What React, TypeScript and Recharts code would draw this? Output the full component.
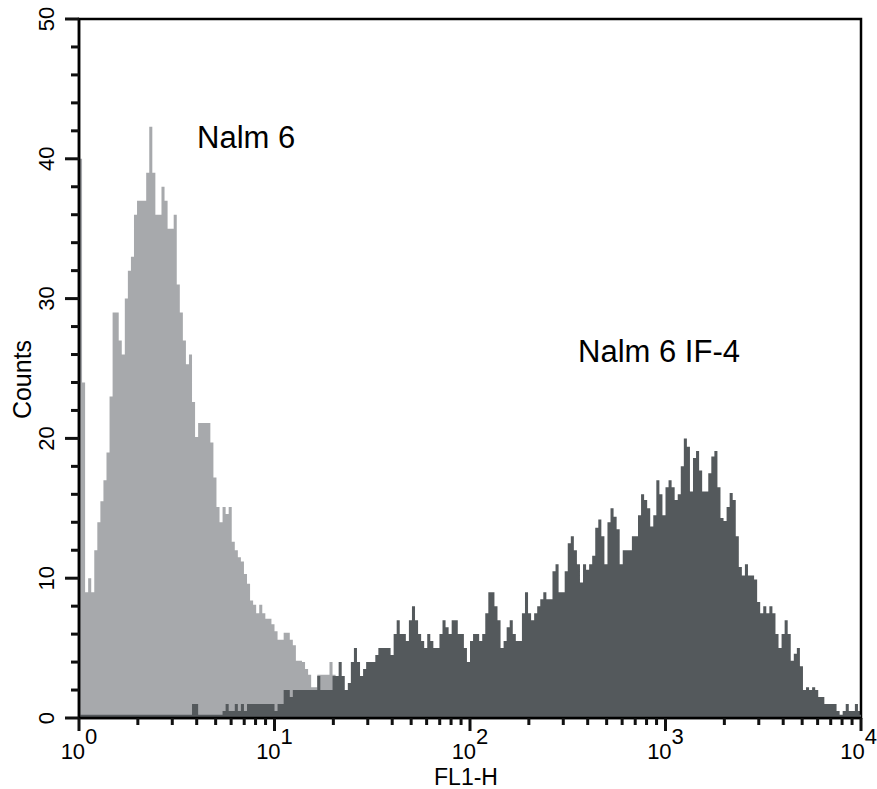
import { AreaChart, Area, XAxis, YAxis, ReferenceArea, ReferenceDot, ReferenceLine } from 'recharts'

// 256 log channels spread over 4 decades (10^0 .. 10^4)
const channels = 256
const decades = 4

// Nalm 6 (light grey), counts per channel starting at channel 0
const nalm6 = [
  40, 24, 9, 10, 9, 12, 14, 15.5, 17, 19,
  23, 29, 29, 27, 26, 30, 32, 33, 36, 37,
  37, 37, 39, 42.3, 39, 36, 36, 38, 37, 35,
  35, 36, 31, 29, 27, 25.3, 26, 22.6, 20.1, 21.1,
  21.1, 21.1, 21.1, 19.7, 17.2, 15.1, 14, 15.1, 14.6, 15.1,
  12.6, 12, 11.5, 11.2, 10.3, 9.6, 8.4, 8.1, 7.5, 8.1,
  7.5, 7.1, 7.1, 6.7, 6.2, 5.6, 5.6, 6.1, 6.1, 5.6,
  5.2, 4.1, 4.1, 4, 3.5, 3.1, 2.2, 2.2, 3.1, 3.1,
  3.1, 3.1, 4, 3.1, 2.5, 2, 2, 1.5, 1.5, 1,
  1, 0.5, 0.5, 0, 0, 0,
]

// Nalm 6 IF-4 (dark grey), counts per channel starting at channel 0
const nalm6If4 = [
  0, 0, 0, 0, 0, 0, 0, 0, 0, 0,
  0, 0, 0, 0, 0, 0, 0, 0, 0, 0,
  0, 0, 0, 0, 0, 0, 0, 0, 0, 0,
  0, 0, 0, 0, 0, 0, 0, 1, 1, 0,
  0, 0, 0, 0, 0, 0, 0, 0.5, 1, 0.5,
  0.5, 1, 0.5, 1, 0.5, 1, 1, 1, 1, 1,
  1, 1, 1, 1, 0.5, 1, 1, 2, 2, 1.5,
  2, 2, 2, 2, 2, 2, 2, 2, 3, 2,
  2, 2, 2, 3, 3, 4, 3, 2, 2.5, 4,
  5, 4, 3, 3.5, 4, 4, 4, 4.5, 5, 5,
  5, 5, 4.5, 6, 7, 6, 6, 5.5, 7, 8,
  7, 6, 5.5, 5, 6, 5.5, 5, 5, 6, 7,
  6.5, 6, 7, 7, 6, 6, 5, 4, 5.5, 6,
  6, 5.5, 6, 7.5, 9, 9, 8, 7, 5, 5.5,
  6.5, 7, 6, 5.5, 5.5, 7.5, 9, 7.5, 7, 7.5,
  8, 8.5, 9, 8.5, 8.5, 10.5, 11, 9, 9, 10.5,
  12.5, 13, 12, 11, 9.7, 11, 10.6, 11, 11.6, 13.6,
  14.2, 13, 11, 14, 15, 14.4, 13.5, 11, 12, 12,
  12, 13, 13, 14.5, 16, 15.6, 15, 13.7, 14.5, 17,
  16, 14.5, 16.5, 17, 16.5, 15.6, 16, 18, 20, 19.4,
  16.2, 18.6, 19.1, 17.7, 16.2, 16.2, 17.5, 18.7, 19.1, 16.5,
  14.3, 14.1, 15.1, 16.1, 15.6, 13, 10.8, 10.2, 11, 10.2,
  10.2, 9.9, 8.3, 7.5, 8, 7.5, 8, 7.5, 6, 5,
  6, 7, 6, 4.1, 4.6, 5, 3.7, 2, 2.2, 2,
  2.2, 2, 1.5, 1.5, 1, 1, 1, 1, 0.5, 0,
  0.5, 1, 0.5, 0.5, 1, 0.5,
]

const yMajorTicks = [0, 10, 20, 30, 40, 50]
const yMinorTicks = [2, 4, 6, 8, 12, 14, 16, 18, 22, 24, 26, 28, 32, 34, 36, 38, 42, 44, 46, 48]
const xMajorTicks = [1, 10, 100, 1000, 10000]
const xMinorTicks = [
  2, 3, 4, 5, 6, 7, 8, 9,
  20, 30, 40, 50, 60, 70, 80, 90,
  200, 300, 400, 500, 600, 700, 800, 900,
  2000, 3000, 4000, 5000, 6000, 7000, 8000, 9000,
]

const font = '"Liberation Sans", Arial, Helvetica, sans-serif'
const lightGrey = '#a7a9ac'
const darkGrey = '#54595c'

const W = 877
const H = 789
const margin = { top: 19, right: 16, bottom: 0, left: 0 }
const yAxisW = 79
const xAxisH = 71
const plotLeft = margin.left + yAxisW
const plotBottom = H - margin.bottom - xAxisH
const plotW = W - margin.left - margin.right - yAxisW
const plotH = plotBottom - margin.top
const pxPerCount = plotH / 50
const pxPerDecade = plotW / decades

const rows = Array.from({ length: channels + 1 }, (_, i) => {
  const k = Math.min(i, channels - 1)
  return {
    fl: Math.pow(10, (i * decades) / channels),
    nalm6: nalm6[k] ?? 0,
    if4: nalm6If4[k] ?? 0,
  }
})

function XTickLabel(props: any) {
  const x = Number(props.x)
  const y = Number(props.y)
  const exp = Math.round(Math.log10(props.payload.value))
  const last = exp === decades
  return (
    <text
      x={last ? x + 16 : x}
      y={y + 29}
      textAnchor={last ? 'end' : 'middle'}
      fontFamily={font}
      fontSize={22}
      fill="#000"
    >
      10<tspan dy={-15}>{exp}</tspan>
    </text>
  )
}

function YTickLabel(props: any) {
  const x = Number(props.x)
  const y = Number(props.y)
  const tx = x - 12
  return (
    <text x={tx} y={y} transform={`rotate(-90 ${tx} ${y})`} textAnchor="middle" fontFamily={font} fontSize={22} fill="#000">
      {props.payload.value}
    </text>
  )
}

function CountsLabel(props: any) {
  const { viewBox } = props
  const cx = viewBox.x + 31
  const cy = viewBox.y + viewBox.height / 2 + 11
  return (
    <text x={cx} y={cy} transform={`rotate(-90 ${cx} ${cy})`} textAnchor="middle" fontFamily={font} fontSize={25} fill="#000">
      Counts
    </text>
  )
}

function FlLabel(props: any) {
  const { viewBox } = props
  return (
    <text x={viewBox.x + viewBox.width / 2 - 4} y={viewBox.y + 67} textAnchor="middle" fontFamily={font} fontSize={23} fill="#000">
      FL1-H
    </text>
  )
}

function Annot(props: any) {
  const { viewBox, text } = props
  return (
    <text x={viewBox.x} y={viewBox.y} fontFamily={font} fontSize={31} fill="#000">
      {text}
    </text>
  )
}

// axis tick marks, laid over the chart on the same log / linear mapping
function TickMarks() {
  const xPos = (v: number) => plotLeft + Math.log10(v) * pxPerDecade
  const yPos = (v: number) => plotBottom - v * pxPerCount
  return (
    <svg
      width={W}
      height={H}
      style={{ position: 'absolute', left: 0, top: 0, pointerEvents: 'none', zIndex: 2 }}
    >
      {xMajorTicks.map((v) => (
        <rect key={`xM${v}`} x={xPos(v) - 1.5} y={plotBottom} width={3} height={13} fill="#111" />
      ))}
      {xMinorTicks.map((v) => (
        <rect key={`xm${v}`} x={xPos(v) - 1.5} y={plotBottom} width={3} height={7} fill="#111" />
      ))}
      {yMajorTicks.map((v) => (
        <rect key={`yM${v}`} x={plotLeft - 14} y={yPos(v) - 1.5} width={14} height={3} fill="#111" />
      ))}
      {yMinorTicks.map((v) => (
        <rect key={`ym${v}`} x={plotLeft - 8} y={yPos(v) - 1.5} width={8} height={3} fill="#111" />
      ))}
    </svg>
  )
}

export default function App() {
  return (
    <div style={{ position: 'absolute', left: 0, top: 0, width: W, height: H, background: '#fff' }}>
      <AreaChart width={W} height={H} data={rows} margin={margin}>
        <XAxis
          dataKey="fl"
          type="number"
          scale="log"
          domain={[1, 10000]}
          ticks={xMajorTicks}
          interval={0}
          allowDataOverflow
          height={xAxisH}
          tickSize={12}
          tickMargin={0}
          tickLine={false}
          tick={<XTickLabel />}
          axisLine={{ stroke: '#000', strokeWidth: 2.5 }}
          label={<FlLabel />}
        />
        <YAxis
          type="number"
          domain={[0, 50]}
          ticks={yMajorTicks}
          interval={0}
          allowDataOverflow
          width={yAxisW}
          tickSize={13}
          tickMargin={0}
          tickLine={false}
          tick={<YTickLabel />}
          axisLine={{ stroke: '#000', strokeWidth: 2.5 }}
          label={<CountsLabel />}
        />
        <Area
          type="stepAfter"
          dataKey="nalm6"
          fill={lightGrey}
          fillOpacity={1}
          stroke="none"
          isAnimationActive={false}
          dot={false}
          activeDot={false}
        />
        <Area
          type="stepAfter"
          dataKey="if4"
          fill={darkGrey}
          fillOpacity={1}
          stroke="none"
          isAnimationActive={false}
          dot={false}
          activeDot={false}
        />
        <ReferenceLine y={0.12} stroke={darkGrey} strokeWidth={3} />
        <ReferenceArea x1={1} x2={10000} y1={0} y2={50} fill="none" stroke="#000" strokeWidth={2.5} />
        <ReferenceDot x={4.015} y={40.8} r={0} fill="none" stroke="none" label={<Annot text="Nalm 6" />} />
        <ReferenceDot x={357} y={25.5} r={0} fill="none" stroke="none" label={<Annot text="Nalm 6 IF-4" />} />
      </AreaChart>
      <TickMarks />
    </div>
  )
}
